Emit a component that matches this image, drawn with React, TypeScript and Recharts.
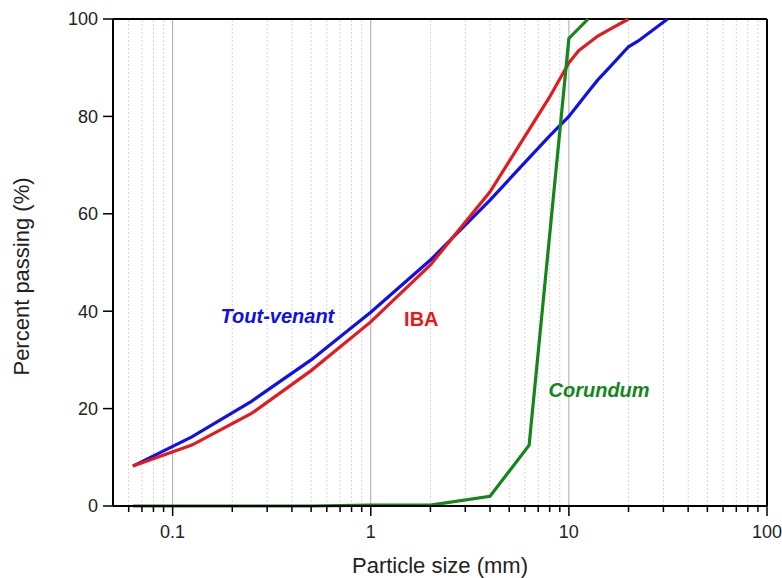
import { LineChart, Line, XAxis, YAxis, ReferenceLine, ReferenceDot } from 'recharts';

// grading curves, particle size (mm) vs percent passing
const TV_SIZE = [0.063, 0.125, 0.25, 0.5, 1, 2, 4, 6.3, 8, 10, 12.5, 14, 16, 20, 22.4, 31.5];
const TV_PASS = [8.2, 14.2, 21.5, 30, 39.8, 50.5, 62.8, 71.5, 76, 80, 85, 87.5, 90, 94.3, 95.5, 100];

const IBA_SIZE = [0.063, 0.125, 0.25, 0.5, 1, 2, 4, 6.3, 8, 10, 11.2, 14, 16, 20];
const IBA_PASS = [8.2, 12.5, 19, 27.8, 37.8, 49.5, 64.5, 77.3, 84, 91, 93.5, 96.5, 97.8, 100];

const COR_SIZE = [0.063, 0.125, 0.25, 0.5, 1, 2, 4, 6.3, 10, 12.5];
const COR_PASS = [0, 0, 0, 0, 0.2, 0.2, 2, 12.5, 96, 100];

const MAJOR_TICKS = [0.1, 1, 10, 100];
const MINOR_TICKS = [
  0.06, 0.07, 0.08, 0.09,
  0.2, 0.3, 0.4, 0.5, 0.6, 0.7, 0.8, 0.9,
  2, 3, 4, 5, 6, 7, 8, 9,
  20, 30, 40, 50, 60, 70, 80, 90,
];
const Y_TICKS = [0, 20, 40, 60, 80, 100];

const LABELS = ['Tout-venant', 'IBA', 'Corundum'];
const LABEL_X = [0.338, 1.8, 14.2];
const LABEL_Y = [39, 38.5, 23.9];
const LABEL_COLORS = ['#1010e8', '#e41a1c', '#14861a'];
const LABEL_ITALIC = [true, false, true];

const FONT = '"Liberation Sans", Arial, sans-serif';

const toRows = (xs: number[], ys: number[]) => xs.map((s, i) => ({ s, p: ys[i] }));
const tvData = toRows(TV_SIZE, TV_PASS);
const ibaData = toRows(IBA_SIZE, IBA_PASS);
const corData = toRows(COR_SIZE, COR_PASS);

const allTicks = [...MINOR_TICKS, ...MAJOR_TICKS].sort((a, b) => a - b);

const XTick = (props: any) => {
  const { x, y, payload } = props;
  const major = MAJOR_TICKS.includes(payload.value);
  return (
    <g>
      <line x1={x} x2={x} y1={y} y2={y + (major ? 10 : 6)} stroke="#000" strokeWidth={1.5} />
      {major && (
        <text x={x} y={y + 32} textAnchor="middle" fontSize={18} fontFamily={FONT} fill="#222">
          {String(payload.value)}
        </text>
      )}
    </g>
  );
};

export default function App() {
  return (
    <div style={{ position: 'absolute', left: 0, top: 0, background: '#fff' }}>
      <LineChart width={782} height={578} margin={{ top: 19, right: 15, bottom: 0, left: 0 }}>
        <XAxis
          dataKey="s"
          type="number"
          scale="log"
          domain={[0.05, 100]}
          allowDataOverflow
          ticks={allTicks}
          interval={0}
          tick={<XTick />}
          tickLine={false}
          tickSize={0}
          tickMargin={0}
          height={72}
          axisLine={{ stroke: '#000', strokeWidth: 2 }}
          label={{
            content: ({ viewBox }: any) => (
              <text
                x={viewBox.x + viewBox.width / 2}
                y={viewBox.y + 67}
                textAnchor="middle"
                fontSize={22}
                fontFamily={FONT}
                fill="#222"
              >
                Particle size (mm)
              </text>
            ),
          }}
        />
        <YAxis
          type="number"
          domain={[0, 100]}
          ticks={Y_TICKS}
          width={113}
          tickSize={10}
          tickMargin={5}
          tick={{ fontSize: 18, fontFamily: FONT, fill: '#222' }}
          tickLine={{ stroke: '#000', strokeWidth: 1.5 }}
          axisLine={{ stroke: '#000', strokeWidth: 2 }}
          label={{
            content: ({ viewBox }: any) => {
              const cx = viewBox.x + 29;
              const cy = viewBox.y + viewBox.height / 2 + 14;
              return (
                <text
                  x={cx}
                  y={cy}
                  transform={`rotate(-90 ${cx} ${cy})`}
                  textAnchor="middle"
                  fontSize={22}
                  fontFamily={FONT}
                  fill="#222"
                >
                  Percent passing (%)
                </text>
              );
            },
          }}
        />

        {MINOR_TICKS.map((v) => (
          <ReferenceLine key={'m' + v} x={v} stroke="#d4d4d4" strokeDasharray="2 2" strokeWidth={1} />
        ))}
        {MAJOR_TICKS.slice(0, 3).map((v) => (
          <ReferenceLine key={'M' + v} x={v} stroke="#a8a8a8" strokeWidth={1} />
        ))}
        <ReferenceLine x={100} stroke="#000" strokeWidth={2} />
        <ReferenceLine y={100} stroke="#000" strokeWidth={2} />

        <Line data={tvData} dataKey="p" type="linear" stroke="#1010e8" strokeWidth={3.2} dot={false} isAnimationActive={false} />
        <Line data={ibaData} dataKey="p" type="linear" stroke="#e41a1c" strokeWidth={3.2} dot={false} isAnimationActive={false} />
        <Line data={corData} dataKey="p" type="linear" stroke="#14861a" strokeWidth={3.2} dot={false} isAnimationActive={false} />

        {LABELS.map((t, i) => (
          <ReferenceDot
            key={t}
            x={LABEL_X[i]}
            y={LABEL_Y[i]}
            r={0}
            shape={(p: any) => (
              <text
                x={p.cx}
                y={p.cy}
                textAnchor="middle"
                dominantBaseline="central"
                fontSize={20}
                fontWeight="bold"
                fontStyle={LABEL_ITALIC[i] ? 'italic' : 'normal'}
                fontFamily={FONT}
                fill={LABEL_COLORS[i]}
              >
                {t}
              </text>
            )}
          />
        ))}
      </LineChart>
    </div>
  );
}
